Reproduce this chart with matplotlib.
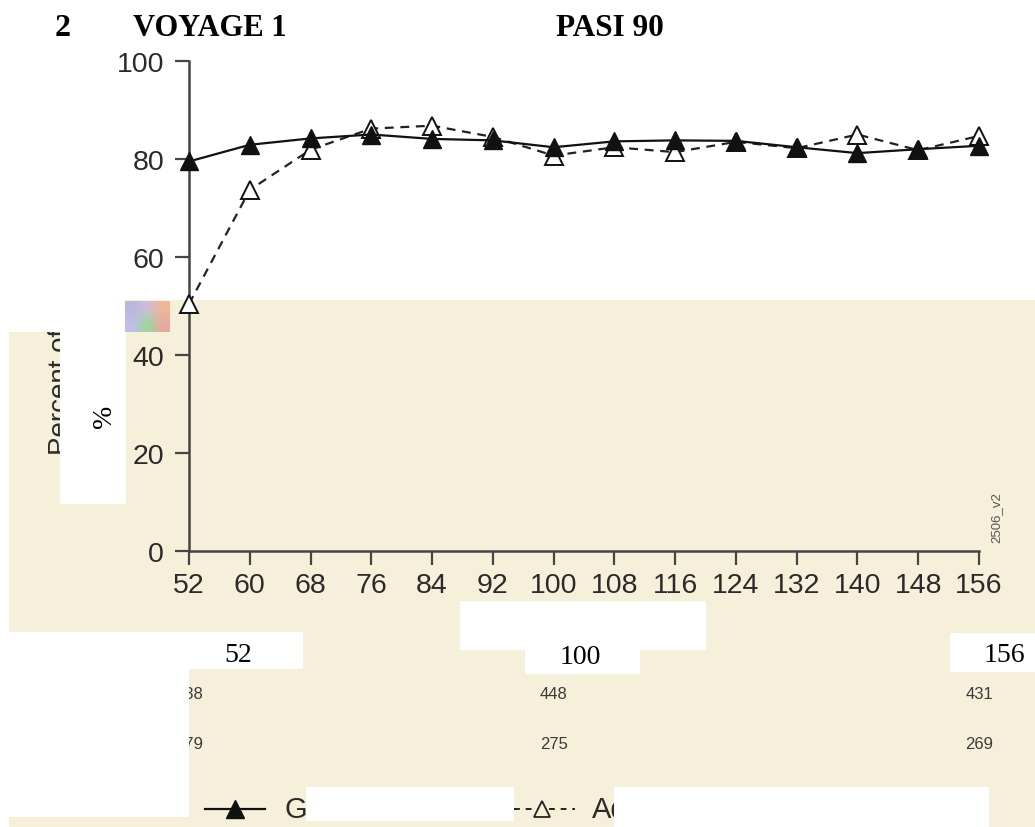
import matplotlib.pyplot as plt
from matplotlib.patches import Rectangle
from matplotlib.lines import Line2D
from matplotlib.transforms import blended_transform_factory
import numpy as np

weeks = [52, 60, 68, 76, 84, 92, 100, 108, 116, 124, 132, 140, 148, 156]
guselkumab = [79.5, 82.9, 84.2, 85.0, 84.1, 83.8, 82.4, 83.6, 83.8, 83.7, 82.4, 81.2, 82.0, 82.7]
adalimumab = [50.4, 73.7, 81.9, 86.2, 86.8, 84.5, 80.7, 82.4, 81.4, 83.5, 82.2, 85.0, 81.8, 84.7]
y_ticks = [0, 20, 40, 60, 80, 100]
n_weeks = [52, 100, 156]
n_gus = ["438", "448", "431"]
n_ada = ["279", "275", "269"]

W, H = 1035, 828
BEIGE = '#f6f0da'
AXC = '#454545'
plt.rcParams['font.family'] = ['Liberation Sans', 'DejaVu Sans']

fig = plt.figure(figsize=(W / 100, H / 100), dpi=100)


def box(x0, y0, x1, y1, color, z):
    r = Rectangle((x0 / W, 1 - y1 / H), (x1 - x0) / W, (y1 - y0) / H,
                  transform=fig.transFigure, facecolor=color, edgecolor='none', zorder=z)
    fig.add_artist(r)
    return r


def ptext(x, y, s, **kw):
    return fig.text(x / W, 1 - y / H, s, **kw)


# beige background of the lower half
box(125, 301, W, 334, BEIGE, 0)
beige_main = box(9, 333, W, 828, BEIGE, 0)

# small colour blob
blob = fig.add_axes([125 / W, 1 - 333 / H, 45 / W, 31 / H], zorder=0.5)
blob.imshow(np.array([[[0.72, 0.72, 0.88], [0.82, 0.74, 0.85], [0.94, 0.72, 0.60]],
                      [[0.75, 0.75, 0.91], [0.60, 0.85, 0.60], [0.91, 0.66, 0.63]]]),
            interpolation='bilinear', aspect='auto')
blob.axis('off')

# main chart
ax = fig.add_axes([189 / W, 1 - 552 / H, (979 - 189) / W, (552 - 62) / H], zorder=1)
ax.set_facecolor('none')
ax.plot(weeks, adalimumab, color='#222222', lw=1.6, ls=(0, (4, 3)), marker='^', ms=13,
        mfc='white', mec='#111111', mew=1.4, clip_on=False, zorder=3)
ax.plot(weeks, guselkumab, color='#111111', lw=1.6, marker='^', ms=13,
        mfc='#111111', mec='#111111', clip_on=False, zorder=4)
ax.set_xlim(52, 156)
ax.set_ylim(0, 100)
ax.set_xticks(weeks)
ax.set_yticks(y_ticks)
for s in ['top', 'right']:
    ax.spines[s].set_visible(False)
for s in ['left', 'bottom']:
    ax.spines[s].set_color(AXC)
    ax.spines[s].set_linewidth(1.8)
ax.tick_params(axis='both', direction='out', length=10, width=1.6, color=AXC,
               labelsize=20.5, labelcolor='#2a2a2a')
ax.tick_params(axis='y', pad=8)
ax.tick_params(axis='x', pad=5)

# y label, only visible where the beige layer is
yl = ptext(68, 455, "Percent of patients", rotation=90, rotation_mode='anchor',
           ha='left', va='baseline', fontsize=20, color='#2a2a2a', zorder=2)
yl.set_clip_path(beige_main)

# side label
ptext(996, 543, "2506_v2", rotation=90, rotation_mode='anchor', ha='left',
      va='center', fontsize=9.5, color='#555555', zorder=2)

# numbers at risk
tr = blended_transform_factory(ax.transData, fig.transFigure)
for wk, a, b in zip(n_weeks, n_gus, n_ada):
    fig.text(wk, 1 - 695 / H, a, transform=tr, ha='center', va='center',
             fontsize=12, color='#3a3a3a', zorder=2)
    fig.text(wk, 1 - 745 / H, b, transform=tr, ha='center', va='center',
             fontsize=12, color='#3a3a3a', zorder=2)

# legend
fig.add_artist(Line2D([205 / W, 265 / W], [1 - 810 / H] * 2, transform=fig.transFigure,
                      color='#111111', lw=1.6, zorder=2))
fig.add_artist(Line2D([235 / W], [1 - 810 / H], transform=fig.transFigure, marker='^', ms=13,
                      mfc='#111111', mec='#111111', zorder=2))
ptext(285, 810, "Guselkumab", ha='left', va='center', fontsize=21, color='#2a2a2a', zorder=2)
fig.add_artist(Line2D([514 / W, 575 / W], [1 - 810 / H] * 2, transform=fig.transFigure,
                      color='#222222', lw=1.4, ls=(0, (3, 3)), zorder=2))
fig.add_artist(Line2D([542 / W], [1 - 810 / H], transform=fig.transFigure, marker='^', ms=12,
                      mfc=BEIGE, mec='#222222', mew=1.3, zorder=2))
ptext(592, 810, "Adalimumab", ha='left', va='center', fontsize=21, color='#2a2a2a', zorder=2)

# white cover boxes
box(60, 333, 126, 505, 'white', 3)
box(460, 602, 706, 651, 'white', 3)
box(525, 650, 640, 675, 'white', 3)
box(9, 633, 303, 670, 'white', 3)
box(9, 669, 189, 818, 'white', 3)
box(950, 634, W, 673, 'white', 3)
box(306, 788, 514, 822, 'white', 3)
box(614, 788, 989, 828, 'white', 3)

# serif texts on top
serif = ['Liberation Serif', 'DejaVu Serif']
ptext(55, 36, "2", family=serif, fontweight='bold', fontsize=23, ha='left', va='baseline', zorder=4)
ptext(133, 36, "VOYAGE 1", family=serif, fontweight='bold', fontsize=22, ha='left', va='baseline', zorder=4)
ptext(556, 36, "PASI 90", family=serif, fontweight='bold', fontsize=22.5, ha='left', va='baseline', zorder=4)
ptext(104, 416, "%", family=serif, fontsize=20, rotation=90, ha='center', va='center', zorder=4)
ptext(238, 662, "52", family=serif, fontsize=20, ha='center', va='baseline', zorder=4)
ptext(580, 664, "100", family=serif, fontsize=20, ha='center', va='baseline', zorder=4)
ptext(1004, 662, "156", family=serif, fontsize=20, ha='center', va='baseline', zorder=4)

fig.savefig('out.png', dpi=100)
